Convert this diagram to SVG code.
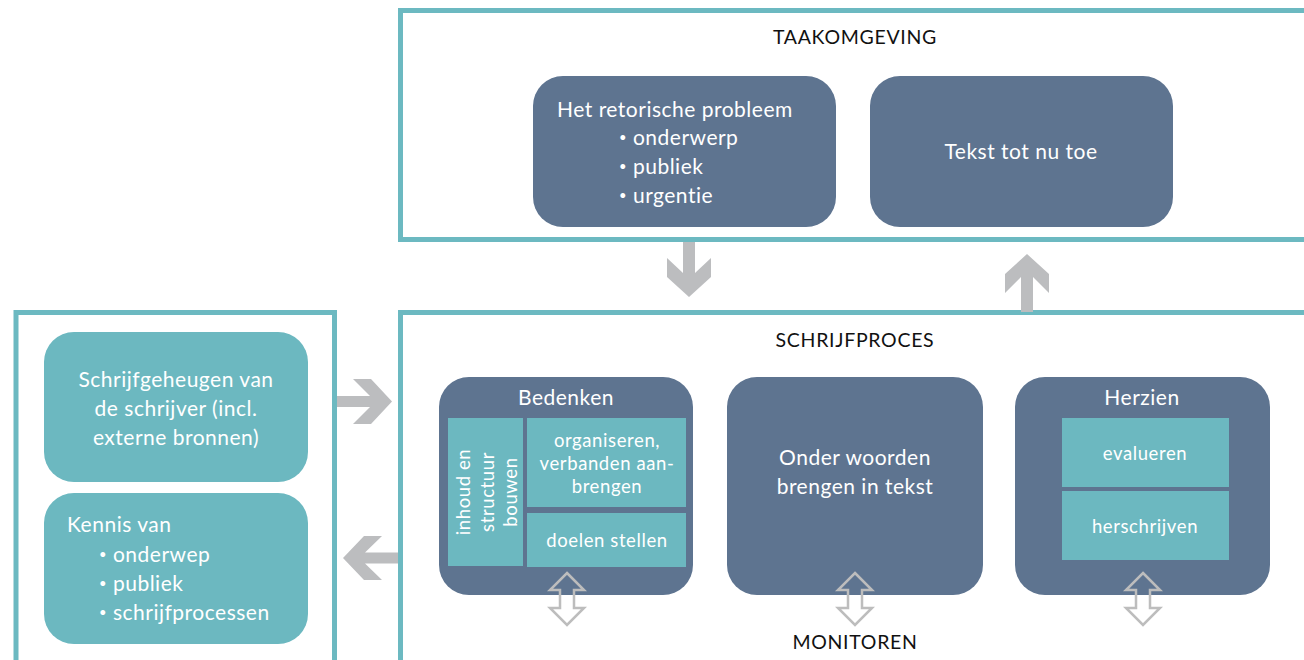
<svg xmlns="http://www.w3.org/2000/svg" width="1304" height="660" viewBox="0 0 1304 660">
<style>
.frame{fill:none;stroke:#6cb9c1;stroke-width:5}
.dark{fill:#5e7490}
.teal{fill:#6cb8c0}
text{font-family:Lato,"Liberation Sans",sans-serif;font-variant-ligatures:none}
.t{fill:#ffffff;font-size:21px;letter-spacing:0.5px}
.ts{fill:#ffffff;font-size:18.5px;letter-spacing:0.6px}
.h{fill:#111111;font-size:19.5px;letter-spacing:0.7px}
.b{font-size:13px}
.arr{fill:#bcbdbf}
.dbl{fill:none;stroke:#bdbdbd;stroke-width:2.5;stroke-linejoin:miter}
.c{text-anchor:middle}
</style>
<defs>
<path id="dblarrow" d="M0,573 L17,590 L7,590 L7,608 L17,608 L0,625 L-17,608 L-7,608 L-7,590 L-17,590 Z"/>
</defs>
<rect width="1304" height="660" fill="#ffffff"/>

<g id="taakomgeving">
<rect class="frame" x="400.5" y="10.5" width="920" height="229"/>
<text class="h c" x="855" y="44">TAAKOMGEVING</text>
</g>
<g id="retorische-probleem">
<rect class="dark" x="533" y="76" width="303" height="151" rx="30"/>
<text class="t" x="557" y="117">Het retorische probleem</text>
<text class="t" x="619" y="145"><tspan class="b" dy="-3">•</tspan><tspan dy="3"> onderwerp</tspan></text>
<text class="t" x="619" y="174"><tspan class="b" dy="-3">•</tspan><tspan dy="3"> publiek</tspan></text>
<text class="t" x="619" y="203"><tspan class="b" dy="-3">•</tspan><tspan dy="3"> urgentie</tspan></text>
</g>
<g id="tekst-tot-nu-toe">
<rect class="dark" x="870" y="76" width="303" height="151" rx="30"/>
<text class="t c" x="1021" y="159">Tekst tot nu toe</text>
</g>

<g id="geheugen-frame">
<rect class="frame" x="16" y="312.5" width="318.5" height="360"/>
</g>
<g id="schrijfgeheugen">
<rect class="teal" x="44" y="332" width="264" height="150" rx="30"/>
<text class="t c" x="176" y="387">Schrijfgeheugen van</text>
<text class="t c" x="176" y="416">de schrijver (incl.</text>
<text class="t c" x="176" y="445">externe bronnen)</text>
</g>
<g id="kennis">
<rect class="teal" x="44" y="493" width="264" height="151" rx="30"/>
<text class="t" x="67" y="532">Kennis van</text>
<text class="t" x="99" y="562"><tspan class="b" dy="-3">•</tspan><tspan dy="3"> onderwep</tspan></text>
<text class="t" x="99" y="591"><tspan class="b" dy="-3">•</tspan><tspan dy="3"> publiek</tspan></text>
<text class="t" x="99" y="620"><tspan class="b" dy="-3">•</tspan><tspan dy="3"> schrijfprocessen</tspan></text>
</g>

<g id="schrijfproces">
<rect class="frame" x="400.5" y="312.5" width="920" height="360"/>
<text class="h c" x="855" y="347">SCHRIJFPROCES</text>
<text class="h c" x="855" y="649">MONITOREN</text>
</g>
<g id="bedenken">
<rect class="dark" x="439" y="377" width="254" height="218" rx="30"/>
<text class="t c" x="566" y="405">Bedenken</text>
<rect class="teal" x="448" y="418" width="75" height="148"/>
<text class="ts c" transform="translate(470 492) rotate(-90)" x="0" y="0">inhoud en</text>
<text class="ts c" transform="translate(494 492) rotate(-90)" x="0" y="0">structuur</text>
<text class="ts c" transform="translate(517 492) rotate(-90)" x="0" y="0">bouwen</text>
<rect class="teal" x="527" y="418" width="159" height="89"/>
<text class="ts c" x="607" y="447">organiseren,</text>
<text class="ts c" x="607" y="470">verbanden aan-</text>
<text class="ts c" x="607" y="493">brengen</text>
<rect class="teal" x="527" y="513" width="159" height="54"/>
<text class="ts c" x="607" y="547">doelen stellen</text>
</g>
<g id="onder-woorden">
<rect class="dark" x="727" y="377" width="256" height="218" rx="30"/>
<text class="t c" x="855" y="465">Onder woorden</text>
<text class="t c" x="855" y="494">brengen in tekst</text>
</g>
<g id="herzien">
<rect class="dark" x="1015" y="377" width="255" height="218" rx="30"/>
<text class="t c" x="1142" y="405">Herzien</text>
<rect class="teal" x="1062" y="418" width="167" height="69"/>
<text class="ts c" x="1145" y="460">evalueren</text>
<rect class="teal" x="1062" y="491" width="167" height="69"/>
<text class="ts c" x="1145" y="533">herschrijven</text>
</g>

<g id="connectors">
<polygon class="arr" points="683,242 695,242 695,273 711,258 711,277 689,297 667,277 667,258 683,273"/>
<polygon class="arr" points="1021,312 1021,277 1005,293 1005,274 1027,254 1049,274 1049,293 1033,277 1033,312"/>
<polygon class="arr" points="337,396 370,396 353,379 371,379 392,401.5 371,424 353,424 370,407 337,407"/>
<polygon class="arr" points="398,552.5 365,552.5 382,536 364,536 343,558 364,580 382,580 365,563.5 398,563.5"/>
<use href="#dblarrow" class="dbl" x="567"/>
<use href="#dblarrow" class="dbl" x="855"/>
<use href="#dblarrow" class="dbl" x="1143"/>
</g>
</svg>
